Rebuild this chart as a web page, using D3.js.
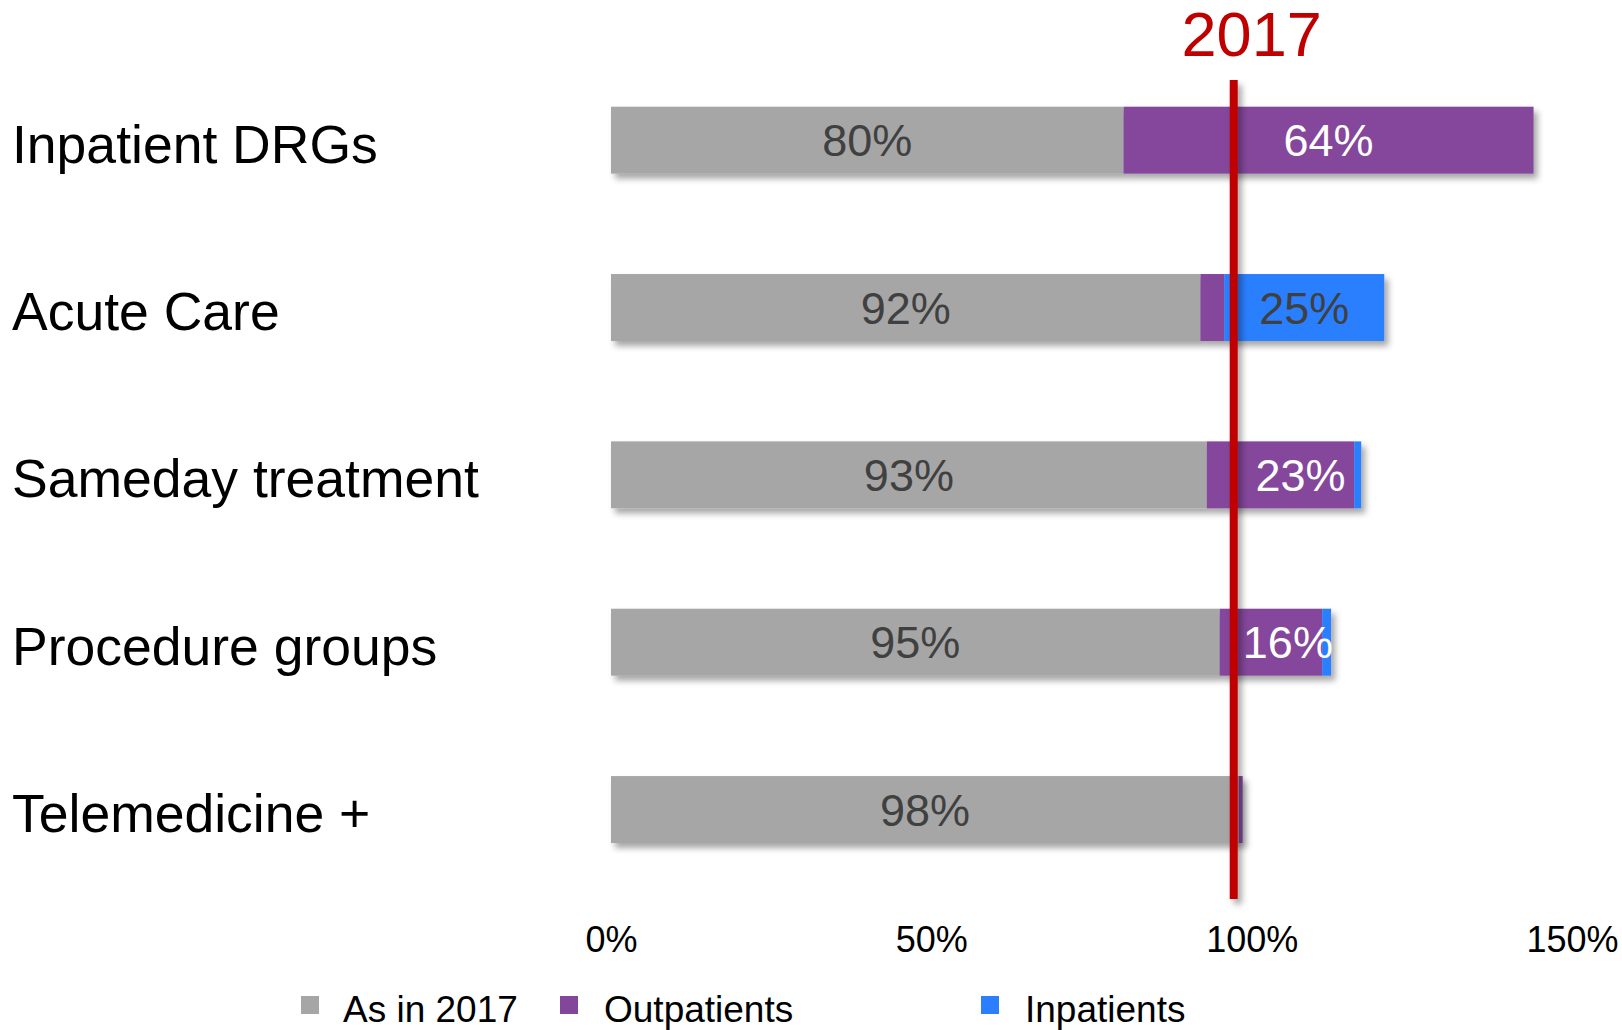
<!DOCTYPE html>
<html>
<head>
<meta charset="utf-8">
<script src="https://cdn.jsdelivr.net/npm/d3@7"></script>
<style>
  body { margin: 0; background: #fff; }
  svg { display: block; font-family: "Liberation Sans", Arial, sans-serif; }
</style>
</head>
<body>
<svg id="chart" width="1622" height="1030"></svg>
<script>
// chart values
const categories  = ["Inpatient DRGs", "Acute Care", "Sameday treatment", "Procedure groups", "Telemedicine +"];
const asIn2017    = [80, 92, 93, 95, 98];
const outpatients = [64, 3.7, 23, 16, 0.6];
const inpatients  = [0, 25, 1.1, 1.4, 0];
const xTicks      = [0, 50, 100, 150];
const markerValue = 97.2;   // where the red "2017" line sits
const markerLabel = "2017";
const seriesNames = ["As in 2017", "Outpatients", "Inpatients"];

const colors = ["#a6a6a6", "#84469b", "#2b7fff"];

const svg = d3.select("#chart");

// shadow like the office chart
const defs = svg.append("defs");
defs.append("filter")
    .attr("id", "shadow")
    .attr("filterUnits", "userSpaceOnUse")
    .attr("x", 0).attr("y", 0).attr("width", 1622).attr("height", 1030)
  .append("feDropShadow")
    .attr("dx", 4).attr("dy", 5)
    .attr("stdDeviation", 3)
    .attr("flood-color", "#000")
    .attr("flood-opacity", 0.35);

const x = d3.scaleLinear().domain([0, 150]).range([611, 1572]);
const y = d3.scaleBand().domain(categories).range([106.7, 843]).paddingInner(0.6).paddingOuter(0);

// build stacked rows
const rows = categories.map((c, i) => ({
  cat: c,
  segs: [
    {s: 0, v: asIn2017[i], k: 0},
    {s: asIn2017[i], v: outpatients[i], k: 1},
    {s: asIn2017[i] + outpatients[i], v: inpatients[i], k: 2}
  ]
}));

const rowG = svg.selectAll(".row")
  .data(rows)
  .enter().append("g")
    .attr("class", "row")
    .attr("filter", "url(#shadow)");

rowG.selectAll("rect")
  .data(d => d.segs.filter(s => s.v > 0).map(s => Object.assign({cat: d.cat}, s)))
  .enter().append("rect")
    .attr("x", d => x(d.s))
    .attr("y", d => y(d.cat))
    .attr("width", d => x(d.s + d.v) - x(d.s))
    .attr("height", y.bandwidth())
    .attr("fill", d => colors[d.k]);

// labels inside the grey bars
svg.selectAll(".baseLabel")
  .data(categories)
  .enter().append("text")
    .attr("class", "baseLabel")
    .attr("x", (d, i) => x(asIn2017[i] / 2))
    .attr("y", d => y(d) + y.bandwidth() / 2)
    .attr("dy", "0.36em")
    .attr("text-anchor", "middle")
    .style("font-size", "45px")
    .attr("fill", "#404040")
    .text((d, i) => asIn2017[i] + "%");

// growth labels (largest added segment)
const labelNudge = [0, 0, 20, 17, 0];
svg.selectAll(".growLabel")
  .data(rows.filter((r, i) => Math.max(outpatients[i], inpatients[i]) >= 5))
  .enter().append("text")
    .attr("class", "growLabel")
    .each(function(r) {
      const i = categories.indexOf(r.cat);
      const seg = outpatients[i] >= inpatients[i] ? r.segs[1] : r.segs[2];
      d3.select(this)
        .attr("x", x(seg.s + seg.v / 2) + labelNudge[i])
        .attr("fill", seg.k === 1 ? "#ffffff" : "#404040")
        .text(Math.round(seg.v) + "%");
    })
    .attr("y", d => y(d.cat) + y.bandwidth() / 2)
    .attr("dy", "0.36em")
    .attr("text-anchor", "middle")
    .style("font-size", "45px");

// category names
svg.selectAll(".catLabel")
  .data(categories)
  .enter().append("text")
    .attr("class", "catLabel")
    .attr("x", 12)
    .attr("y", d => y(d) + y.bandwidth() / 2)
    .attr("dy", "0.42em")
    .style("font-size", "53.5px")
    .attr("fill", "#000")
    .text(d => d);

// red 2017 line
svg.append("rect")
    .attr("x", x(markerValue) - 4)
    .attr("y", 80)
    .attr("width", 8)
    .attr("height", 819)
    .attr("fill", "#c00000")
    .attr("filter", "url(#shadow)");

svg.append("text")
    .attr("x", x(100))
    .attr("y", 56)
    .attr("text-anchor", "middle")
    .style("font-size", "63px")
    .attr("fill", "#c00000")
    .text(markerLabel);

// x axis, labels only
const axis = svg.append("g")
    .attr("transform", "translate(0,926)")
    .call(d3.axisBottom(x).tickValues(xTicks).tickFormat(d => d + "%").tickSize(0).tickPadding(0));
axis.select(".domain").remove();
axis.selectAll("text")
    .style("font-size", "36px")
    .style("font-family", "'Liberation Sans', Arial, sans-serif")
    .attr("fill", "#000");

// legend
const legendX = [301, 560, 981];
const leg = svg.selectAll(".legend")
  .data(seriesNames)
  .enter().append("g")
    .attr("class", "legend")
    .attr("transform", (d, i) => `translate(${legendX[i]},996)`);
leg.append("rect")
    .attr("width", 18).attr("height", 18)
    .attr("fill", (d, i) => colors[i]);
leg.append("text")
    .attr("x", (d, i) => i === 0 ? 42 : 44)
    .attr("y", 26)
    .style("font-size", "37px")
    .attr("fill", "#000")
    .text(d => d);
</script>
</body>
</html>
